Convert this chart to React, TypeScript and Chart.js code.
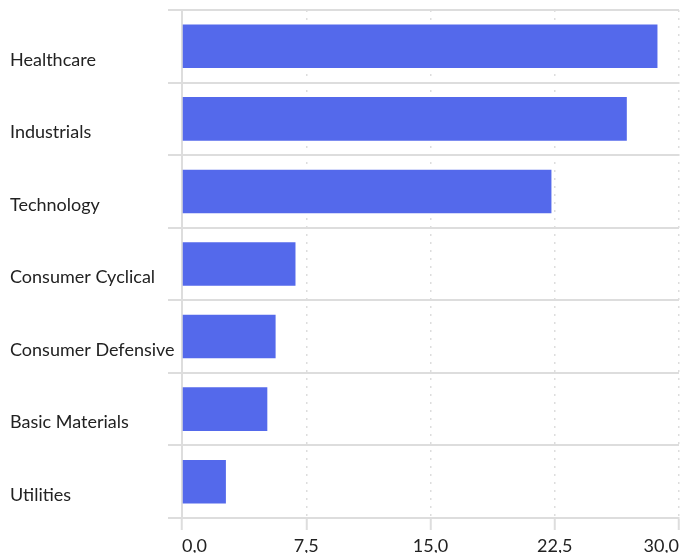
import React, { useEffect, useRef } from "react";
import { Chart, registerables } from "chart.js";

Chart.register(...registerables);

const categories = [
  "Healthcare",
  "Industrials",
  "Technology",
  "Consumer Cyclical",
  "Consumer Defensive",
  "Basic Materials",
  "Utilities",
];
const values = [28.7, 26.85, 22.3, 6.85, 5.65, 5.15, 2.65];
const xTicks = [0, 7.5, 15, 22.5, 30];

export default function App() {
  const ref = useRef<HTMLCanvasElement | null>(null);
  useEffect(() => {
    if (!ref.current) return;
    const chart = new Chart(ref.current, {
      type: "bar",
      data: {
        labels: categories,
        datasets: [
          {
            data: values,
            backgroundColor: "#5469eb",
            borderWidth: 0,
            categoryPercentage: 1,
            barPercentage: 0.6,
          },
        ],
      },
      options: {
        indexAxis: "y",
        animation: false,
        responsive: true,
        maintainAspectRatio: false,
        layout: { padding: { left: 10, right: 3, top: 10, bottom: 0 } },
        plugins: { legend: { display: false }, tooltip: { enabled: false } },
        scales: {
          x: {
            min: 0,
            max: 30,
            afterBuildTicks: (scale: any) => {
              scale.ticks = xTicks.map((v) => ({ value: v }));
            },
            afterFit: (scale: any) => {
              scale.height = 35;
            },
            ticks: {
              align: "inner",
              color: "#222",
              padding: 5,
              font: { family: "Lato", size: 18 },
              callback: (v: any) => Number(v).toFixed(1).replace(".", ","),
            },
            grid: {
              color: "#dddddd",
              lineWidth: 1.5,
              tickLength: 12,
              tickColor: "#dddddd",
              tickWidth: 2,
              tickBorderDash: [],
            },
            border: { display: true, color: "#dddddd", width: 2, dash: [2, 6] },
          },
          y: {
            afterFit: (scale: any) => {
              scale.width = 172;
              scale.paddingTop = 0;
              scale.paddingBottom = 0;
            },
            ticks: {
              crossAlign: "far",
              color: "#222",
              font: { family: "Lato", size: 18, lineHeight: 1.5 },
              callback: function (this: any, v: any) {
                return ["", categories[v]];
              },
            },
            grid: {
              offset: true,
              color: "#dddddd",
              lineWidth: 2,
              tickLength: 14,
            },
            border: { display: true, color: "#dddddd", width: 2 },
          },
        },
      },
    });
    return () => chart.destroy();
  }, []);
  return (
    <div style={{ position: "absolute", left: 0, top: 0, width: 684, height: 553 }}>
      <canvas ref={ref} />
    </div>
  );
}
